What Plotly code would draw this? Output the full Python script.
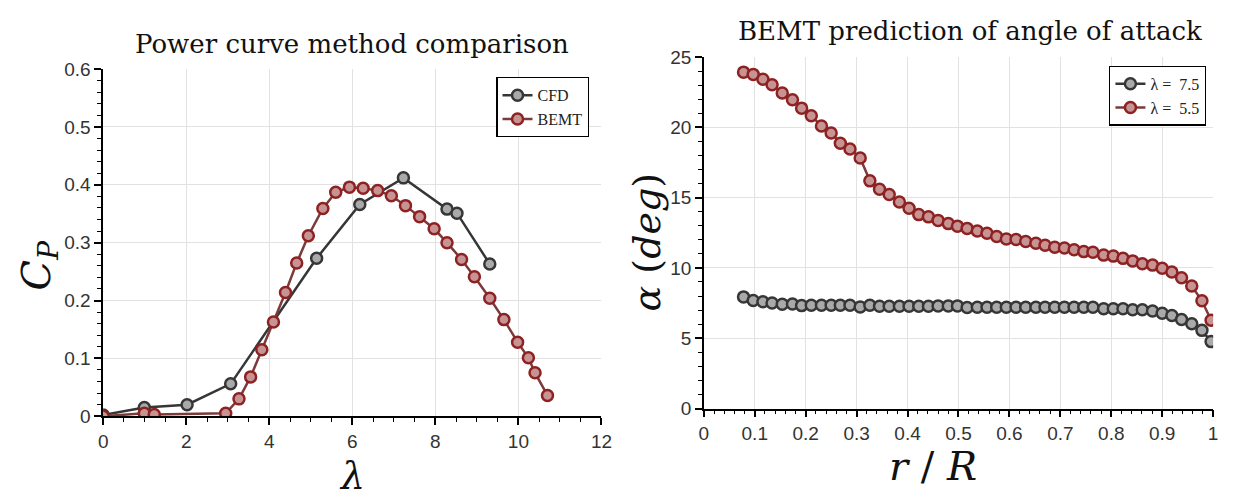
import plotly.graph_objects as go

# ---- Data: power curve ----
cfd_tsr = [0.0, 0.99, 2.02, 3.07, 5.14, 6.18, 7.23, 8.28, 8.52, 9.31]
cfd_cp = [0.002, 0.015, 0.020, 0.056, 0.273, 0.366, 0.412, 0.358, 0.351, 0.263]

bemt_tsr = [0.0, 0.99, 1.23, 2.95, 3.27, 3.55, 3.82, 4.10, 4.39, 4.66, 4.94, 5.29, 5.60,
            5.93, 6.26, 6.61, 6.94, 7.28, 7.62, 7.97, 8.28, 8.63, 8.94, 9.31, 9.65,
            9.98, 10.24, 10.40, 10.70]
bemt_cp = [0.0, 0.005, 0.003, 0.005, 0.030, 0.068, 0.115, 0.163, 0.214, 0.265, 0.312,
           0.359, 0.387, 0.396, 0.394, 0.390, 0.381, 0.364, 0.345, 0.324, 0.300, 0.271,
           0.241, 0.204, 0.167, 0.128, 0.101, 0.075, 0.036]

# ---- Data: angle of attack ----
r_over_R = [0.078, 0.097, 0.116, 0.134, 0.154, 0.174, 0.192, 0.211, 0.231, 0.250,
            0.268, 0.287, 0.307, 0.326, 0.345, 0.364, 0.384, 0.403, 0.422, 0.441,
            0.460, 0.480, 0.498, 0.517, 0.537, 0.556, 0.575, 0.594, 0.613, 0.632,
            0.652, 0.670, 0.689, 0.708, 0.727, 0.746, 0.764, 0.785, 0.804, 0.823,
            0.842, 0.861, 0.881, 0.900, 0.919, 0.938, 0.958, 0.978, 0.996]
alpha_75 = [7.94, 7.69, 7.60, 7.51, 7.41, 7.44, 7.32, 7.35, 7.35, 7.35,
            7.35, 7.35, 7.23, 7.35, 7.28, 7.28, 7.28, 7.28, 7.28, 7.28,
            7.30, 7.30, 7.30, 7.19, 7.21, 7.21, 7.21, 7.21, 7.21, 7.21,
            7.21, 7.21, 7.21, 7.21, 7.21, 7.21, 7.21, 7.10, 7.10, 7.10,
            7.03, 7.03, 6.94, 6.78, 6.62, 6.33, 6.03, 5.56, 4.76]
alpha_55 = [23.92, 23.76, 23.42, 23.02, 22.43, 21.95, 21.36, 20.82, 20.09, 19.59,
            18.87, 18.46, 17.82, 16.19, 15.60, 15.22, 14.69, 14.24, 13.79, 13.63,
            13.38, 13.15, 12.97, 12.81, 12.63, 12.47, 12.24, 12.06, 12.02, 11.88,
            11.75, 11.61, 11.47, 11.41, 11.29, 11.16, 11.11, 10.91, 10.84, 10.68,
            10.50, 10.29, 10.20, 9.98, 9.71, 9.30, 8.71, 7.66, 6.28]

W, H = 1235, 501
SERIF = "Liberation Serif, DejaVu Serif, serif"
WSERIF = "DejaVu Serif, Liberation Serif, serif"
SANS = "Liberation Sans, Arial, sans-serif"

BLK_LINE = "#363636"
BLK_FILL = "#a9a9a9"
RED_LINE = "#7c3a3a"
RED_EDGE = "#8e2222"
RED_FILL = "#c79393"

def px(x):
    return x / W

def py(y):
    return 1 - y / H

fig = go.Figure()

mk_b = dict(symbol="circle", size=11, color=BLK_FILL, line=dict(color=BLK_LINE, width=2.5))
mk_r = dict(symbol="circle", size=11, color=RED_FILL, line=dict(color=RED_EDGE, width=2.5))

fig.add_trace(go.Scatter(x=cfd_tsr, y=cfd_cp, mode="lines+markers", name="CFD",
                         line=dict(color=BLK_LINE, width=2.5), marker=mk_b,
                         xaxis="x", yaxis="y", legend="legend"))
fig.add_trace(go.Scatter(x=bemt_tsr, y=bemt_cp, mode="lines+markers", name="BEMT",
                         line=dict(color=RED_LINE, width=2.5), marker=mk_r,
                         xaxis="x", yaxis="y", legend="legend"))
fig.add_trace(go.Scatter(x=r_over_R, y=alpha_75, mode="lines+markers", name="λ =  7.5",
                         line=dict(color=BLK_LINE, width=2.5), marker=mk_b,
                         xaxis="x2", yaxis="y2", legend="legend2"))
fig.add_trace(go.Scatter(x=r_over_R, y=alpha_55, mode="lines+markers", name="λ =  5.5",
                         line=dict(color=RED_LINE, width=2.5), marker=mk_r,
                         xaxis="x2", yaxis="y2", legend="legend2"))

axis_common = dict(
    showline=True, linecolor="black", linewidth=1.5,
    showgrid=True, gridcolor="#e2e2e2", gridwidth=1,
    zeroline=False, ticks="outside", ticklen=7, tickwidth=1.5, tickcolor="black",
    tickfont=dict(family=SANS, size=19, color="#333333"),
    mirror=False,
)

minor_common = dict(ticks="outside", ticklen=4, tickwidth=1.2, tickcolor="black", showgrid=False)

fig.update_layout(
    width=W, height=H,
    margin=dict(l=0, r=0, t=0, b=0),
    paper_bgcolor="white", plot_bgcolor="white",
    xaxis=dict(domain=[px(99.5), px(604.3)], range=[0, 12], dtick=2, anchor="y",
               minor=dict(dtick=0.5, **minor_common), **axis_common),
    yaxis=dict(domain=[py(424), py(61.7)], range=[0, 0.6], anchor="x",
               tickvals=[0, 0.1, 0.2, 0.3, 0.4, 0.5, 0.6],
               ticktext=["0", "0.1", "0.2", "0.3", "0.4", "0.5", "0.6"],
               minor=dict(dtick=0.02, **minor_common), **axis_common),
    xaxis2=dict(domain=[px(708), px(1224)], range=[0, 1], anchor="y2",
                tickvals=[0, 0.1, 0.2, 0.3, 0.4, 0.5, 0.6, 0.7, 0.8, 0.9, 1.0],
                ticktext=["0", "0.1", "0.2", "0.3", "0.4", "0.5", "0.6", "0.7", "0.8", "0.9", "1"],
                minor=dict(dtick=0.02, **minor_common), **axis_common),
    yaxis2=dict(domain=[py(416), py(49)], range=[0, 25], dtick=5, anchor="x2",
                minor=dict(dtick=1, **minor_common), **axis_common),
    legend=dict(x=px(592), y=py(70), xanchor="right", yanchor="top",
                bgcolor="white", bordercolor="black", borderwidth=1.2,
                font=dict(family=SERIF, size=16, color="#222"),
                tracegroupgap=0, itemwidth=30),
    legend2=dict(x=px(1217), y=py(58), xanchor="right", yanchor="top",
                 bgcolor="white", bordercolor="black", borderwidth=1.2,
                 font=dict(family=SERIF, size=16, color="#222"),
                 tracegroupgap=0, itemwidth=30),
    showlegend=True,
)

def ann(text, x, y, size, angle=0, family=WSERIF):
    return dict(text=text, x=px(x), y=py(y), xref="paper", yref="paper",
                xanchor="center", yanchor="middle", showarrow=False, textangle=angle,
                font=dict(family=family, size=size, color="#111"))

annotations = [
    ann("Power curve method comparison", 352, 35, 26),
    ann("BEMT prediction of angle of attack", 978, 22, 26),
    ann("<i>C</i><sub><i>P</i></sub>", 34, 266, 40, -90),
    ann("<i>λ</i>", 352, 486, 38),
    ann("<i>α</i> (<i>deg</i>)", 650, 242, 38, -90),
    ann("<i>r</i> / <i>R</i>", 940, 476, 40),
]
fig.update_layout(annotations=annotations)

fig.write_html("out.html")
